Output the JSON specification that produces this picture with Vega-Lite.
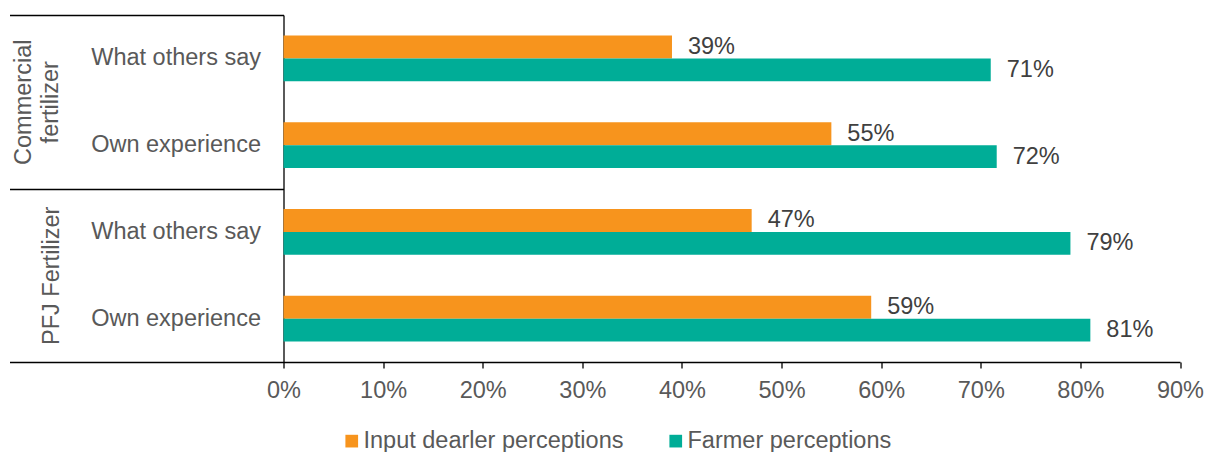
{
  "$schema": "https://vega.github.io/schema/vega-lite/v6.json",
  "width": 896.5,
  "height": 347,
  "autosize": {"type": "none"},
  "padding": {"left": 283.5, "top": 15, "right": 25, "bottom": 90},
  "background": "white",
  "config": {"view": {"stroke": null}, "font": "Liberation Sans"},
  "data": {
    "values": [
      {"group": "Commercial fertilizer", "item": "What others say", "series": "Input dearler perceptions", "value": 0.39},
      {"group": "Commercial fertilizer", "item": "What others say", "series": "Farmer perceptions", "value": 0.71},
      {"group": "Commercial fertilizer", "item": "Own experience", "series": "Input dearler perceptions", "value": 0.55},
      {"group": "Commercial fertilizer", "item": "Own experience", "series": "Farmer perceptions", "value": 0.716},
      {"group": "PFJ Fertilizer", "item": "What others say", "series": "Input dearler perceptions", "value": 0.47},
      {"group": "PFJ Fertilizer", "item": "What others say", "series": "Farmer perceptions", "value": 0.79},
      {"group": "PFJ Fertilizer", "item": "Own experience", "series": "Input dearler perceptions", "value": 0.59},
      {"group": "PFJ Fertilizer", "item": "Own experience", "series": "Farmer perceptions", "value": 0.81}
    ]
  },
  "transform": [{"calculate": "datum.group + '|' + datum.item", "as": "key"}],
  "layer": [
    {
      "layer": [
        {
          "mark": {"type": "bar"},
          "encoding": {
            "y": {
              "field": "key", "type": "nominal",
              "sort": ["Commercial fertilizer|What others say", "Commercial fertilizer|Own experience", "PFJ Fertilizer|What others say", "PFJ Fertilizer|Own experience"],
              "scale": {"type": "band", "paddingInner": 0.47, "paddingOuter": 0.235},
              "axis": {
                "title": null, "orient": "left", "domainColor": "#000000", "domainWidth": 1.3, "ticks": false,
                "labelExpr": "split(datum.label, '|')[1]", "labelFontSize": 23.5, "labelColor": "#595959",
                "labelPadding": 23, "labelAlign": "right", "labelBaseline": "middle", "labelFont": "Liberation Sans"
              }
            },
            "yOffset": {
              "field": "series", "type": "nominal",
              "sort": ["Input dearler perceptions", "Farmer perceptions"],
              "scale": {"paddingInner": 0, "paddingOuter": 0}
            },
            "x": {
              "field": "value", "type": "quantitative",
              "scale": {"domain": [0, 0.9], "nice": false},
              "axis": {
                "title": null, "values": [0, 0.1, 0.2, 0.3, 0.4, 0.5, 0.6, 0.7, 0.8, 0.9], "format": ".0%",
                "grid": false, "domainColor": "#000000", "domainWidth": 1.3, "tickColor": "#000000", "tickWidth": 1.3, "tickSize": 6,
                "labelFontSize": 23.5, "labelColor": "#595959", "labelPadding": 10, "labelFlush": false, "labelOverlap": false, "labelFont": "Liberation Sans"
              }
            },
            "color": {
              "field": "series", "type": "nominal",
              "scale": {"domain": ["Input dearler perceptions", "Farmer perceptions"], "range": ["#F7941D", "#00AD97"]},
              "legend": {
                "orient": "none", "legendX": 56.5, "legendY": 414, "direction": "horizontal", "title": null,
                "symbolType": "square", "symbolSize": 161, "symbolStrokeWidth": 0, "symbolOpacity": 1,
                "labelFontSize": 23.5, "labelColor": "#595959", "labelOffset": 0, "columnPadding": 40, "padding": 0,
                "labelFont": "Liberation Sans", "labelLimit": 400
              }
            }
          }
        },
        {
          "mark": {"type": "text", "align": "left", "baseline": "middle", "dx": 16, "fontSize": 23.5, "color": "#404040", "font": "Liberation Sans"},
          "encoding": {
            "y": {
              "field": "key", "type": "nominal",
              "sort": ["Commercial fertilizer|What others say", "Commercial fertilizer|Own experience", "PFJ Fertilizer|What others say", "PFJ Fertilizer|Own experience"]
            },
            "yOffset": {"field": "series", "type": "nominal", "sort": ["Input dearler perceptions", "Farmer perceptions"]},
            "x": {"field": "value", "type": "quantitative"},
            "text": {"field": "value", "type": "quantitative", "format": ".0%"}
          }
        }
      ]
    },
    {
      "mark": {"type": "point", "opacity": 0},
      "encoding": {
        "y": {
          "field": "group", "type": "nominal",
          "sort": ["Commercial fertilizer", "PFJ Fertilizer"],
          "scale": {"type": "band", "paddingInner": 0, "paddingOuter": 0},
          "axis": {
            "orient": "left", "title": null, "domain": false, "ticks": true, "tickBand": "extent",
            "tickSize": 274, "tickColor": "#000000", "tickWidth": 1.3,
            "labelAngle": -90, "labelAlign": "center", "labelBaseline": "bottom",
            "labelPadding": {"condition": {"test": "datum.value == 'Commercial fertilizer'", "value": -25.5}, "value": -53.5},
            "labelFontSize": 23.5, "labelColor": "#595959", "labelLineHeight": 27, "labelFont": "Liberation Sans",
            "labelExpr": "datum.label == 'Commercial fertilizer' ? ['Commercial', 'fertilizer'] : datum.label",
            "labelOverlap": false, "labelBound": false, "labelFlush": false, "labelLimit": 400
          }
        },
        "x": {"field": "value", "type": "quantitative"}
      }
    }
  ],
  "resolve": {"scale": {"y": "independent"}, "axis": {"y": "independent"}}
}
